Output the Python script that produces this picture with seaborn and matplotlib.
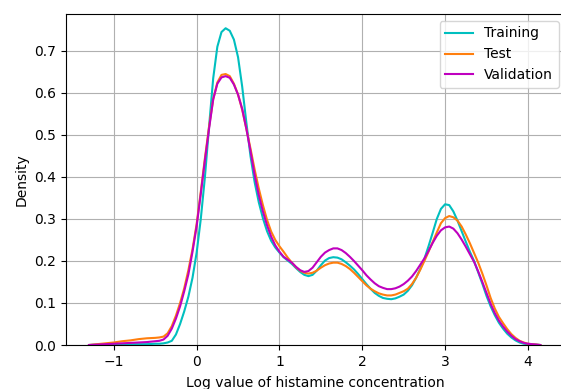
import matplotlib
matplotlib.use("Agg")
import matplotlib.pyplot as plt
import seaborn as sns
import pandas as pd

# x positions where the density curves were read
x_grid = [
    -1.3, -1.2, -1.1, -1.0, -0.9, -0.8, -0.7, -0.6, -0.5,
    -0.45, -0.4, -0.35, -0.3, -0.25, -0.2, -0.15, -0.1, -0.05, 0.0,
    0.05, 0.1, 0.15, 0.2, 0.25, 0.3, 0.35, 0.4, 0.45, 0.5,
    0.55, 0.6, 0.65, 0.7, 0.75, 0.8, 0.85, 0.9, 0.95, 1.0,
    1.05, 1.1, 1.15, 1.2, 1.25, 1.3, 1.35, 1.4, 1.45, 1.5,
    1.55, 1.6, 1.65, 1.7, 1.75, 1.8, 1.85, 1.9, 1.95, 2.0,
    2.05, 2.1, 2.15, 2.2, 2.25, 2.3, 2.35, 2.4, 2.45, 2.5,
    2.55, 2.6, 2.65, 2.7, 2.75, 2.8, 2.85, 2.9, 2.95, 3.0,
    3.05, 3.1, 3.15, 3.2, 3.25, 3.3, 3.35, 3.4, 3.45, 3.5,
    3.55, 3.6, 3.65, 3.7, 3.75, 3.8, 3.85, 3.9, 3.95, 4.0,
    4.05, 4.1, 4.15,
]

training = [
    0.000, 0.001, 0.001, 0.001, 0.002, 0.002, 0.002, 0.002, 0.003,
    0.003, 0.004, 0.006, 0.010, 0.025, 0.050, 0.080, 0.115, 0.160, 0.220,
    0.300, 0.400, 0.520, 0.635, 0.710, 0.745, 0.754, 0.748, 0.727, 0.685,
    0.615, 0.530, 0.450, 0.388, 0.340, 0.302, 0.271, 0.248, 0.232, 0.220,
    0.209, 0.201, 0.193, 0.183, 0.174, 0.167, 0.164, 0.167, 0.177, 0.190,
    0.201, 0.207, 0.209, 0.208, 0.204, 0.197, 0.189, 0.180, 0.169, 0.157,
    0.145, 0.134, 0.124, 0.117, 0.112, 0.110, 0.109, 0.111, 0.115, 0.120,
    0.129, 0.142, 0.160, 0.181, 0.205, 0.235, 0.267, 0.300, 0.324, 0.335,
    0.333, 0.318, 0.296, 0.271, 0.246, 0.222, 0.200, 0.173, 0.146, 0.117,
    0.092, 0.071, 0.053, 0.039, 0.027, 0.018, 0.011, 0.006, 0.003, 0.002,
    0.001, 0.001, 0.000,
]

test = [
    0.000, 0.002, 0.004, 0.006, 0.009, 0.011, 0.014, 0.016, 0.017,
    0.018, 0.020, 0.028, 0.045, 0.070, 0.100, 0.135, 0.178, 0.228, 0.288,
    0.365, 0.445, 0.520, 0.585, 0.625, 0.643, 0.645, 0.640, 0.622, 0.596,
    0.560, 0.515, 0.468, 0.418, 0.373, 0.333, 0.298, 0.270, 0.250, 0.235,
    0.222, 0.208, 0.196, 0.185, 0.177, 0.172, 0.170, 0.172, 0.177, 0.184,
    0.190, 0.194, 0.196, 0.196, 0.193, 0.188, 0.181, 0.172, 0.162, 0.152,
    0.142, 0.134, 0.128, 0.123, 0.120, 0.118, 0.118, 0.120, 0.124, 0.128,
    0.134, 0.145, 0.160, 0.179, 0.200, 0.222, 0.245, 0.268, 0.290, 0.302,
    0.307, 0.304, 0.296, 0.282, 0.263, 0.242, 0.219, 0.196, 0.170, 0.142,
    0.112, 0.087, 0.067, 0.052, 0.038, 0.026, 0.017, 0.010, 0.006, 0.003,
    0.002, 0.001, 0.000,
]

validation = [
    0.000, 0.001, 0.002, 0.003, 0.004, 0.005, 0.006, 0.007, 0.009,
    0.010, 0.013, 0.022, 0.039, 0.063, 0.092, 0.128, 0.168, 0.222, 0.283,
    0.360, 0.440, 0.515, 0.585, 0.622, 0.637, 0.640, 0.636, 0.620, 0.596,
    0.562, 0.515, 0.462, 0.405, 0.357, 0.318, 0.285, 0.258, 0.237, 0.222,
    0.210, 0.203, 0.196, 0.186, 0.178, 0.174, 0.176, 0.184, 0.197, 0.210,
    0.220, 0.226, 0.230, 0.230, 0.226, 0.219, 0.210, 0.200, 0.189, 0.178,
    0.166, 0.156, 0.147, 0.140, 0.136, 0.133, 0.133, 0.135, 0.139, 0.145,
    0.153, 0.163, 0.176, 0.191, 0.206, 0.224, 0.243, 0.260, 0.273, 0.280,
    0.282, 0.277, 0.266, 0.251, 0.234, 0.216, 0.198, 0.175, 0.150, 0.124,
    0.098, 0.076, 0.058, 0.044, 0.032, 0.022, 0.014, 0.009, 0.005, 0.003,
    0.002, 0.001, 0.000,
]

series_names = ["Training", "Test", "Validation"]
series_colors = ["c", "tab:orange", "m"]

fig = plt.figure(figsize=(5.61, 3.89), dpi=100)
ax = fig.add_axes([0.117, 0.1131, 0.891, 0.851])

for name, vals, col in zip(series_names, [training, test, validation], series_colors):
    df = pd.DataFrame({"x": x_grid, "Density": vals})
    sns.lineplot(data=df, x="x", y="Density", color=col, linewidth=1.5,
                 label=name, ax=ax, sort=False)

ax.set_xlim(-1.582, 4.454)
ax.set_ylim(0, 0.788)
ax.set_xticks([-1, 0, 1, 2, 3, 4])
ax.set_yticks([0.0, 0.1, 0.2, 0.3, 0.4, 0.5, 0.6, 0.7])
ax.grid(True)
ax.set_axisbelow(True)
ax.set_xlabel("Log value of histamine concentration", labelpad=5.5)
ax.set_ylabel("Density")
ax.legend(loc="upper right")

fig.savefig("out.png", dpi=100)
